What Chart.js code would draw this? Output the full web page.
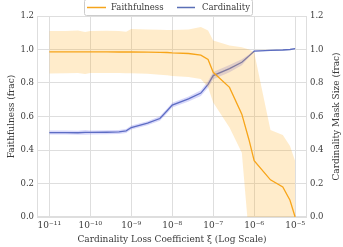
<!DOCTYPE html>
<html><head><meta charset="utf-8">
<script src="https://cdn.jsdelivr.net/npm/chart.js@4/dist/chart.umd.min.js"></script>
<style>html,body{margin:0;padding:0;background:#fff}#wrap{width:343px;height:247px}</style>
</head><body><div id="wrap"><canvas id="c" width="343" height="247"></canvas></div>
<script>
const xs = [1e-11,2.5e-11,5e-11,7.5e-11, 1e-10,2.5e-10,5e-10,7.5e-10, 1e-9,2.5e-9,5e-9,7.5e-9, 1e-8,2.5e-8,5e-8,7.5e-8, 1e-7,2.5e-7,5e-7,7.5e-7, 1e-6,2.5e-6,5e-6,7.5e-6, 1e-5];
const faith = [0.986,0.986,0.986,0.986, 0.986,0.986,0.985,0.985, 0.985,0.984,0.983,0.982, 0.980,0.976,0.966,0.940, 0.864,0.774,0.614,0.460, 0.336,0.222,0.180,0.100, 0.0];
const faithHi = [1.110,1.110,1.114,1.104, 1.110,1.112,1.110,1.106, 1.122,1.120,1.118,1.116, 1.116,1.120,1.134,1.114, 1.054,1.024,1.014,1.000, 0.984,0.520,0.490,0.424, 0.334];
const faithLo = [0.856,0.858,0.860,0.854, 0.860,0.860,0.860,0.858, 0.858,0.855,0.850,0.846, 0.842,0.836,0.824,0.774, 0.684,0.534,0.384,-0.120, -0.300,-0.400,-0.450,-0.450, -0.500];
const card = [0.504,0.504,0.503,0.505, 0.505,0.506,0.508,0.514, 0.534,0.560,0.588,0.634, 0.668,0.705,0.740,0.792, 0.844,0.886,0.924,0.962, 0.990,0.995,0.997,1.000, 1.005];
const cardHi = [0.516,0.516,0.515,0.519, 0.517,0.518,0.520,0.526, 0.546,0.572,0.601,0.648, 0.682,0.720,0.757,0.812, 0.866,0.908,0.942,0.970, 0.994,0.998,1.000,1.003, 1.008];
const cardLo = [0.492,0.492,0.491,0.491, 0.493,0.494,0.496,0.502, 0.522,0.548,0.575,0.620, 0.654,0.690,0.723,0.772, 0.822,0.864,0.906,0.954, 0.986,0.992,0.994,0.997, 1.002];
const xTickValues = [1e-11,1e-10,1e-9,1e-8,1e-7,1e-6,1e-5];
const yTickValues = [0,0.2,0.4,0.6,0.8,1.0,1.2];

const pts = arr => arr.map((v,i)=>({x:xs[i], y:v}));
const ORANGE = '#f5a41c', ORANGE_BAND = 'rgba(255,170,20,0.22)';
const BLUE = '#5a6fb6', BLUE_BAND = 'rgba(105,105,235,0.26)';
const FONT = 'DejaVu Serif';
const TEXT = '#3a3a3a';
const GRID = '#dedede';

const sup = {'-':'⁻','0':'⁰','1':'¹','2':'²','3':'³','4':'⁴','5':'⁵','6':'⁶','7':'⁷','8':'⁸','9':'⁹'};
function fmtExp(v){ const e = Math.round(Math.log10(v)); return '10' + String(e).split('').map(c=>sup[c]).join(''); }

const common = {pointRadius:0, pointHoverRadius:0, tension:0, borderWidth:0};
const overlay = {
  id:'overlay',
  beforeDatasetsDraw(chart){
    const {ctx, chartArea:a} = chart;
    ctx.save(); ctx.strokeStyle = GRID; ctx.lineWidth = 1;
    ctx.strokeRect(a.left+0.5, a.top+0.5, a.right-a.left-1, a.bottom-a.top-1);
    ctx.restore();
  },
  afterDraw(chart){
    const {ctx, chartArea:a} = chart;
    ctx.save();
    ctx.fillStyle = TEXT; ctx.font = '9px "' + FONT + '"';
    ctx.textAlign = 'center'; ctx.textBaseline = 'middle';
    ctx.fillText('Cardinality Loss Coefficient ξ (Log Scale)', (a.left+a.right)/2, 240);
    const cy = (a.top+a.bottom)/2;
    ctx.save(); ctx.translate(12, cy); ctx.rotate(-Math.PI/2); ctx.fillText('Faithfulness (frac)', 0, 0); ctx.restore();
    ctx.save(); ctx.translate(337, cy); ctx.rotate(-Math.PI/2); ctx.fillText('Cardinality Mask Size (frac)', 0, 0); ctx.restore();
    // legend
    const bx = 84, by = -1, bw = 168, bh = 16;
    ctx.fillStyle = 'rgba(255,255,255,0.85)'; ctx.strokeStyle = '#cccccc'; ctx.lineWidth = 1;
    ctx.beginPath();
    if (ctx.roundRect) ctx.roundRect(bx+0.5, by+0.5, bw, bh, 2); else ctx.rect(bx+0.5, by+0.5, bw, bh);
    ctx.fill(); ctx.stroke();
    ctx.lineWidth = 1.5;
    ctx.strokeStyle = ORANGE; ctx.beginPath(); ctx.moveTo(87,7.5); ctx.lineTo(106,7.5); ctx.stroke();
    ctx.strokeStyle = BLUE; ctx.beginPath(); ctx.moveTo(177,7.5); ctx.lineTo(195,7.5); ctx.stroke();
    ctx.font = '8.5px "' + FONT + '"';
    ctx.fillStyle = TEXT; ctx.textAlign = 'left'; ctx.textBaseline = 'middle';
    ctx.fillText('Faithfulness', 111, 7.5);
    ctx.fillText('Cardinality', 202, 7.5);
    ctx.restore();
  }
};

new Chart(document.getElementById('c'), {
  type:'line',
  data:{datasets:[
    {...common, data:pts(faithLo), borderColor:'transparent', fill:false, yAxisID:'y'},
    {...common, data:pts(faithHi), borderColor:'transparent', backgroundColor:ORANGE_BAND, fill:'-1', yAxisID:'y'},
    {...common, data:pts(faith), borderColor:ORANGE, borderWidth:1.3, fill:false, yAxisID:'y'},
    {...common, data:pts(cardLo), borderColor:'transparent', fill:false, yAxisID:'y2'},
    {...common, data:pts(cardHi), borderColor:'transparent', backgroundColor:BLUE_BAND, fill:'-1', yAxisID:'y2'},
    {...common, data:pts(card), borderColor:BLUE, borderWidth:1.3, fill:false, yAxisID:'y2'}
  ]},
  options:{
    responsive:false, animation:false, devicePixelRatio:1,
    layout:{padding:{top:16, left:0, right:0, bottom:0}},
    plugins:{legend:{display:false}, tooltip:{enabled:false}},
    scales:{
      x:{type:'logarithmic', min:5.0e-12, max:1.95e-5,
        afterBuildTicks(s){ s.ticks = xTickValues.map(v=>({value:v})); },
        afterFit(s){ s.height = 30; },
        grid:{color:GRID, drawTicks:false}, border:{display:false},
        ticks:{autoSkip:false, maxRotation:0, padding:3, color:TEXT, font:{family:FONT, size:9}, callback:v=>fmtExp(v)}},
      y:{type:'linear', position:'left', min:0, max:1.2,
        afterBuildTicks(s){ s.ticks = yTickValues.map(v=>({value:v})); },
        afterFit(s){ s.width = 37; },
        grid:{color:GRID, drawTicks:false}, border:{display:false},
        ticks:{padding:3, color:TEXT, font:{family:FONT, size:8.5}, callback:v=>v.toFixed(1)}},
      y2:{type:'linear', position:'right', min:0, max:1.2,
        afterBuildTicks(s){ s.ticks = yTickValues.map(v=>({value:v})); },
        afterFit(s){ s.width = 36; },
        grid:{display:false, drawTicks:false}, border:{display:false},
        ticks:{padding:3, color:TEXT, font:{family:FONT, size:8.5}, callback:v=>v.toFixed(1)}}
    }
  },
  plugins:[overlay]
});
</script></body></html>
